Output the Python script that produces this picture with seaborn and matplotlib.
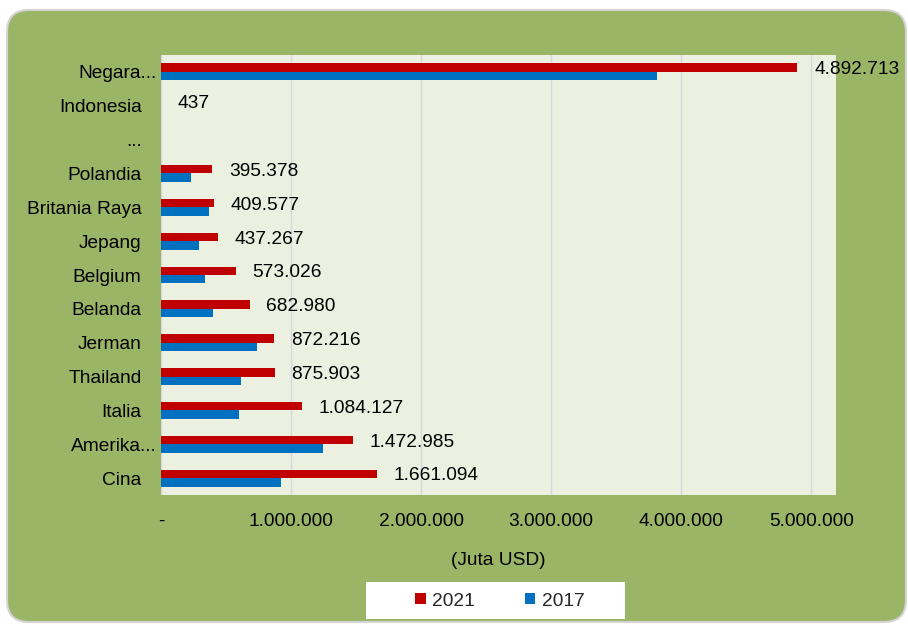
import matplotlib
matplotlib.use("Agg")
import matplotlib.pyplot as plt
import matplotlib.patches as mpatches
from matplotlib.transforms import ScaledTranslation
import numpy as np
import pandas as pd
import seaborn as sns

# ---- data ----
countries = ["Negara...", "Indonesia", "...", "Polandia", "Britania Raya", "Jepang",
             "Belgium", "Belanda", "Jerman", "Thailand", "Italia", "Amerika...", "Cina"]
values_2021 = [4892713, 437, np.nan, 395378, 409577, 437267, 573026, 682980,
               872216, 875903, 1084127, 1472985, 1661094]
values_2017 = [3810000, 300, np.nan, 228000, 367000, 292000, 341000, 398000,
               738000, 615000, 598000, 1249000, 921000]
years = ["2021", "2017"]
xticks = [0, 1000000, 2000000, 3000000, 4000000, 5000000]
xtick_labels = ["-", "1.000.000", "2.000.000", "3.000.000", "4.000.000", "5.000.000"]
xlabel = "(Juta USD)"

df = pd.DataFrame({
    "Negara": countries * 2,
    "Tahun": [years[0]] * len(countries) + [years[1]] * len(countries),
    "Nilai": values_2021 + values_2017,
})

RED = "#C00000"
BLUE = "#0070C0"
GREEN = "#9BB567"
PLOTBG = "#EBF0E0"

sns.set_theme(style="white")
plt.rcParams["font.family"] = ["Liberation Sans", "DejaVu Sans"]

fig = plt.figure(figsize=(9.08, 6.24), dpi=100)
fig.patch.set_facecolor("white")

# outer rounded green panel (pixel coordinates)
panel = mpatches.FancyBboxPatch((7, 2), 899, 612,
                                boxstyle="round,pad=0,rounding_size=22",
                                transform=None, facecolor=GREEN,
                                edgecolor="#D4D4D4", linewidth=1.5, zorder=-3)
fig.patches.append(panel)

# white legend box
legbox = mpatches.Rectangle((366, 624 - 619), 259, 37, transform=None,
                            facecolor="white", edgecolor="none", zorder=-2)
fig.patches.append(legbox)

ax = fig.add_axes([161 / 908, 1 - 495 / 624, (836 - 161) / 908, (495 - 55) / 624])
ax.set_facecolor(PLOTBG)

sns.barplot(data=df, y="Negara", x="Nilai", hue="Tahun", order=countries,
            hue_order=years, palette=[RED, BLUE], orient="h", width=0.5,
            saturation=1, edgecolor="none", ax=ax, legend=False)

ax.set_xlim(0, 5.19e6)
ax.set_ylim(len(countries) - 0.5, -0.5)
ax.set_xticks(xticks)
ax.set_xticklabels(xtick_labels)
ax.grid(axis="x", color="#D6D8DC", linewidth=1)
ax.set_axisbelow(True)
for s in ax.spines.values():
    s.set_visible(False)
ax.tick_params(axis="x", length=0, pad=13, labelsize=13.8, labelcolor="black")
ax.tick_params(axis="y", length=0, pad=14, labelsize=13.8, labelcolor="black")
ax.set_ylabel("")
ax.set_xlabel(xlabel, fontsize=13.8, labelpad=16, color="black")


def fmt(v):
    if v is None or (isinstance(v, float) and np.isnan(v)):
        return ""
    return f"{int(round(v)):,}".replace(",", ".")


# data labels on the 2021 bars
bars_2021 = [p for p in ax.containers[0] if p is not None]
vals = [v for v in values_2021 if not np.isnan(v)]
for p, v in zip(bars_2021, vals):
    ax.annotate(fmt(v), xy=(p.get_x() + p.get_width(), p.get_y() + p.get_height() / 2),
                xytext=(12, -1.5), textcoords="offset points", ha="left", va="center",
                fontsize=13.8, color="black", annotation_clip=False)

# legend
handles = [mpatches.Patch(facecolor=RED, edgecolor="none", label=years[0]),
           mpatches.Patch(facecolor=BLUE, edgecolor="none", label=years[1])]
fig.legend(handles=handles, loc="center",
           bbox_to_anchor=(500 / 908, 1 - 601 / 624), ncol=2, frameon=False,
           fontsize=13.8, handlelength=0.55, handleheight=0.55,
           handletextpad=0.35, columnspacing=2.6)

# truncated category labels sit further right (as in the source chart)
fig.canvas.draw()
for lab in ax.get_yticklabels():
    if lab.get_text().endswith("...") and lab.get_text() != "...":
        lab.set_transform(lab.get_transform() +
                          ScaledTranslation(0.15, 0, fig.dpi_scale_trans))

fig.savefig("out.png", dpi=100, facecolor=fig.get_facecolor())
